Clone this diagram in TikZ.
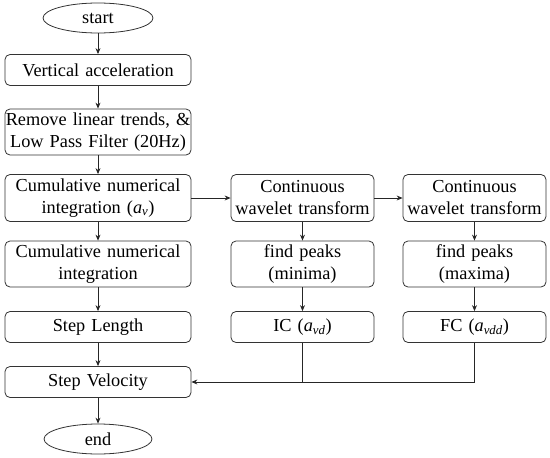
\documentclass[tikz,border=0pt]{standalone}
\usepackage{fontspec}
\setmainfont{Liberation Serif}
\usetikzlibrary{arrows.meta,shapes.geometric}
\newcommand{\av}[1]{\textit{a}\textsubscript{\textit{#1}}}
\begin{document}
\begin{tikzpicture}[x=1pt, y=-1pt,
    box/.style={draw=black!80, line width=0.8pt, rounded corners=5pt, align=center,
                minimum height=31pt, inner sep=0pt, font=\fontsize{18.3}{22}\selectfont},
    colone/.style={box, minimum width=186pt, text width=186pt},
    coltwo/.style={box, minimum width=143pt, text width=143pt},
    terminal/.style={ellipse, draw=black!80, line width=0.8pt, minimum width=110pt,
                minimum height=30pt, inner sep=0pt, font=\fontsize{18.3}{22}\selectfont},
    link/.style={-{Stealth[length=6pt,width=5pt]}, line width=0.8pt, draw=black!85}]
  \useasboundingbox (0,0) rectangle (550,458);
  % first column
  \node[terminal] (start) at (98,18) {start};
  \node[colone] (vacc) at (98,70) {Vertical acceleration};
  \node[colone, minimum height=46pt] (filter) at (98,132) {Remove linear trends, \&\\Low Pass Filter (20Hz)};
  \node[colone, minimum height=47pt] (cni1) at (98,198) {Cumulative numerical\\integration (\av{v})};
  \node[colone, minimum height=46pt] (cni2) at (98,264) {Cumulative numerical\\integration};
  \node[colone] (slen) at (98,327) {Step Length};
  \node[colone] (svel) at (98,382) {Step Velocity};
  \node[terminal, minimum width=108pt] (end) at (98,439) {end};
  % second and third column
  \node[coltwo, minimum height=47pt] (cwt1) at (302.5,198) {Continuous\\wavelet transform};
  \node[coltwo, minimum height=46pt] (peak1) at (302.5,264) {find peaks\\(minima)};
  \node[coltwo] (ic) at (302.5,327) {IC (\av{vd})};
  \node[coltwo, minimum height=47pt] (cwt2) at (474.5,198) {Continuous\\wavelet transform};
  \node[coltwo, minimum height=46pt] (peak2) at (474.5,264) {find peaks\\(maxima)};
  \node[coltwo] (fc) at (474.5,327) {FC (\av{vdd})};
  \coordinate (join) at (ic.south |- svel.east);
  % connectors
  \draw[link] (start) -- (vacc);
  \draw[link] (vacc) -- (filter);
  \draw[link] (filter) -- (cni1);
  \draw[link] (cni1) -- (cni2);
  \draw[link] (cni2) -- (slen);
  \draw[link] (slen) -- (svel);
  \draw[link] (svel) -- (end);
  \draw[link] (cni1) -- (cwt1);
  \draw[link] (cwt1) -- (cwt2);
  \draw[link] (cwt1) -- (peak1);
  \draw[link] (peak1) -- (ic);
  \draw[link] (cwt2) -- (peak2);
  \draw[link] (peak2) -- (fc);
  \draw[link] (ic.south) |- (svel.east);
  \draw[line width=0.8pt, draw=black!85] (fc.south) |- (join);
\end{tikzpicture}
\end{document}
